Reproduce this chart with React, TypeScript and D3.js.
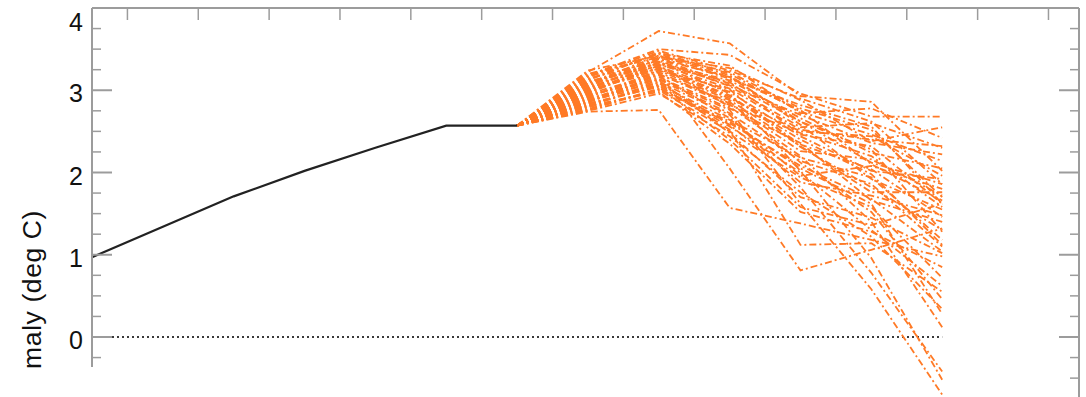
import React, { useRef, useEffect } from 'react';
import * as d3 from 'd3';

// observed record (one value per step, steps 0..6)
const observedSteps = [0, 1, 2, 3, 4, 5, 6];
const observedValues = [0.97, 1.34, 1.71, 2.02, 2.3, 2.57, 2.57];

// ensemble members start from the last observed value (step 6) and run to step 12
const ensembleSteps = [6, 7, 8, 9, 10, 11, 12];
const ensembleMembers = [
    [3.22, 3.72, 3.57, 2.93, 2.86, 2.02],
    [3.18, 3.5, 3.43, 2.96, 2.68, 2.68],
    [2.74, 2.76, 1.57, 1.38, 1.18, 0.98],
    [3.06, 3.4, 3.27, 2.88, 2.38, 2.55],
    [3.12, 3.45, 3.3, 2.72, 2.78, 2.42],
    [3.0, 3.38, 3.16, 2.62, 2.12, 1.86],
    [2.96, 3.31, 3.1, 2.46, 2.32, 1.62],
    [2.91, 3.24, 3.01, 2.31, 1.82, 1.3],
    [2.85, 3.19, 2.86, 2.12, 1.52, 0.46],
    [2.8, 3.1, 2.7, 1.82, 0.78, -0.42],
    [2.88, 3.14, 2.76, 1.62, 0.58, -0.7],
    [3.02, 3.35, 2.96, 2.02, 0.96, -0.52],
    [2.95, 3.21, 2.05, 0.81, 1.06, 1.32],
    [2.83, 3.06, 2.52, 1.12, 1.14, 0.55],
    [3.08, 3.42, 3.22, 2.78, 2.52, 1.7],
    [3.14, 3.36, 3.05, 2.55, 2.6, 2.3],
    [2.99, 3.28, 2.92, 2.4, 1.98, 1.12],
    [2.77, 3.02, 2.62, 2.05, 1.62, 0.28],
    [3.04, 3.3, 2.8, 2.2, 1.4, 0.12],
    [2.93, 3.18, 2.66, 1.96, 2.08, 1.8],
    [3.1, 3.33, 3.12, 2.66, 2.24, 2.05],
    [2.86, 3.12, 2.48, 1.7, 1.45, 1.02],
    [3.16, 3.44, 3.18, 2.58, 1.92, 1.55],
    [2.81, 2.98, 2.35, 1.52, 1.28, 0.85],
    [3.07, 3.26, 2.9, 2.5, 2.44, 1.96],
    [2.97, 3.34, 3.06, 2.7, 2.36, 2.22],
    [2.9, 3.09, 2.58, 1.88, 1.72, 1.48],
    [3.2, 3.4, 3.14, 2.82, 2.56, 1.62],
    [2.75, 2.96, 2.44, 1.76, 1.22, 0.34],
    [3.01, 3.22, 2.84, 2.26, 2.16, 1.72],
    [2.89, 3.16, 2.78, 2.36, 1.66, 1.4],
    [3.11, 3.29, 2.98, 2.44, 2.02, 1.92],
    [2.84, 3.04, 2.4, 1.58, 1.36, 1.62],
    [3.05, 3.38, 3.08, 2.62, 2.28, 1.28],
    [2.94, 3.13, 2.72, 2.14, 1.86, 1.1],
    [3.13, 3.46, 3.2, 2.74, 2.46, 2.14],
    [2.79, 3.0, 2.5, 1.94, 1.58, 0.72],
    [3.03, 3.24, 2.88, 2.32, 1.76, 1.76],
    [2.92, 3.2, 2.82, 2.48, 2.2, 1.58],
    [3.17, 3.48, 3.24, 2.9, 2.62, 1.86],
    [2.87, 3.07, 2.64, 2.18, 1.94, 1.18],
    [3.09, 3.32, 3.02, 2.52, 2.4, 2.32],
    [2.98, 3.27, 2.94, 2.34, 2.04, 1.46],
    [2.82, 3.05, 2.56, 2.0, 1.3, 0.62],
    [3.24, 3.42, 3.16, 2.76, 2.1, 1.66],
    [2.76, 3.01, 2.6, 2.08, 1.68, 1.04],
];

const yTickValues = [0, 1, 2, 3, 4];
const yLabel = 'Anomaly (deg C)';

const W = 1086;
const H = 397;

export default function App() {
    const svgRef = useRef<SVGSVGElement | null>(null);

    useEffect(() => {
        if (!svgRef.current) return;
        const svg = d3.select(svgRef.current);
        svg.selectAll('*').remove();

        const left = 92, right = 1079, top = 8;
        const stepW = 70.85;

        const x = d3.scaleLinear().domain([0, 1]).range([left, left + stepW]);
        const y = d3.scaleLinear().domain([0, 4]).range([337, top]);
        const xEnd = x.invert(right);

        const axisColor = '#9c9c9c';
        const font = "'Liberation Sans', Arial, Helvetica, sans-serif";

        svg.append('rect').attr('width', W).attr('height', H).attr('fill', 'white');

        // the left margin of the source image is cut just under the axis
        const defs = svg.append('defs');
        defs.append('clipPath').attr('id', 'leftClip')
            .append('rect').attr('x', 0).attr('y', 0).attr('width', W).attr('height', 368);

        // zero reference
        svg.append('line')
            .attr('x1', x(0)).attr('x2', x(12))
            .attr('y1', y(0)).attr('y2', y(0))
            .attr('stroke', '#3a3a3a')
            .attr('stroke-width', 2)
            .attr('stroke-dasharray', '2,3');

        const line = d3.line<[number, number]>()
            .x(d => x(d[0]))
            .y(d => y(d[1]));

        // ensemble
        const members = ensembleMembers.map(m =>
            ensembleSteps.map((s, i) => [s, i === 0 ? observedValues[6] : m[i - 1]] as [number, number]));
        svg.append('g')
            .selectAll('path')
            .data(members)
            .enter().append('path')
            .attr('d', d => line(d))
            .attr('fill', 'none')
            .attr('stroke', '#ff7a26')
            .attr('stroke-width', 1.8)
            .attr('stroke-dasharray', '7,3,2,3');

        // observed
        svg.append('path')
            .attr('d', line(observedSteps.map((s, i) => [s, observedValues[i]] as [number, number])))
            .attr('fill', 'none')
            .attr('stroke', '#222')
            .attr('stroke-width', 2.2);

        // frame
        const frame = svg.append('g').attr('stroke', axisColor).attr('stroke-width', 2);
        frame.append('line').attr('x1', left).attr('x2', right).attr('y1', top).attr('y2', top);
        frame.append('line').attr('x1', left).attr('x2', left).attr('y1', top).attr('y2', 367);
        frame.append('line').attr('x1', right).attr('x2', right).attr('y1', top).attr('y2', H);

        // top ticks (between steps)
        const topTicks = d3.range(0.5, xEnd, 1);
        frame.selectAll('.xt')
            .data(topTicks)
            .enter().append('line')
            .attr('x1', d => x(d)).attr('x2', d => x(d))
            .attr('y1', top).attr('y2', top + 12)
            .attr('stroke-width', 1.5);

        // y ticks, major and minor, both sides
        const minor = d3.range(-0.75, 4.01, 0.25);
        minor.forEach(v => {
            const isMajor = Math.abs(v - Math.round(v)) < 1e-6;
            const len = isMajor ? 20 : 9;
            if (y(v) <= 367) {
                frame.append('line')
                    .attr('x1', left).attr('x2', left + len)
                    .attr('y1', y(v)).attr('y2', y(v))
                    .attr('stroke-width', isMajor ? 2 : 1.5);
            }
            frame.append('line')
                .attr('x1', right - len).attr('x2', right)
                .attr('y1', y(v)).attr('y2', y(v))
                .attr('stroke-width', isMajor ? 2 : 1.5);
        });

        // y tick labels
        svg.append('g')
            .selectAll('text')
            .data(yTickValues)
            .enter().append('text')
            .attr('x', 83)
            .attr('y', d => Math.max(y(d) + 3, 22))
            .attr('dy', '0.36em')
            .attr('text-anchor', 'end')
            .style('font-family', font)
            .style('font-size', '25px')
            .style('fill', '#111')
            .text(d => String(d));

        // y axis title
        svg.append('g').attr('clip-path', 'url(#leftClip)')
            .append('text')
            .attr('transform', 'translate(41,210) rotate(-90)')
            .attr('text-anchor', 'end')
            .style('font-family', font)
            .style('font-size', '26.5px')
            .style('letter-spacing', '0.6px')
            .style('fill', '#111')
            .text(yLabel);
    }, []);

    return (
        <div style={{ position: 'fixed', left: 0, top: 0, width: W, height: H }}>
            <svg ref={svgRef} width={W} height={H}></svg>
        </div>
    );
}
